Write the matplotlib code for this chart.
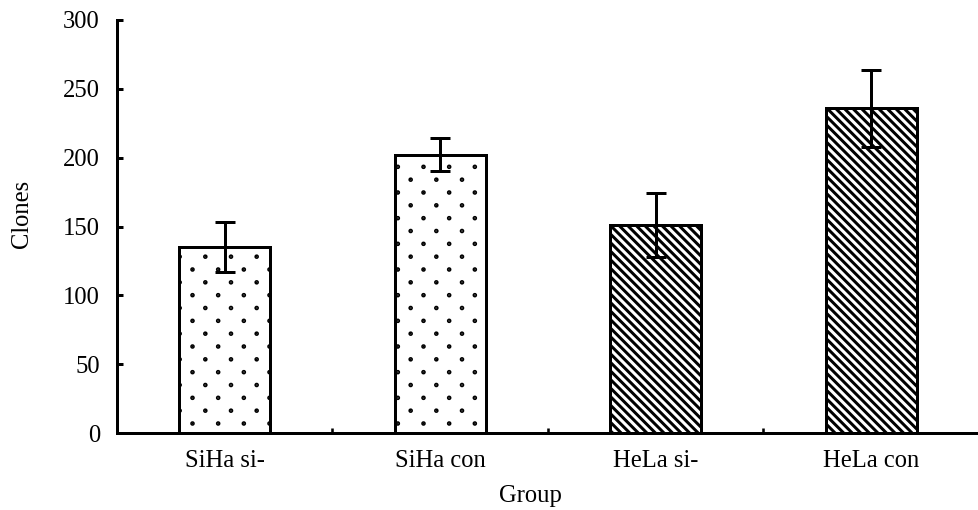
import matplotlib
matplotlib.use("Agg")
import matplotlib.pyplot as plt
import matplotlib.hatch as mhatch
from matplotlib.path import Path
import numpy as np

categories = ["SiHa si-", "SiHa con", "HeLa si-", "HeLa con"]
clones = [135, 202, 151, 236]
errors = [18, 12, 23, 28]
hatches = [".", ".", "\\" * 6, "\\" * 6]


class StaggeredDots(mhatch.HatchPatternBase):
    """Small dots: 6 per tile horizontally, 12 staggered rows vertically."""
    cols = 6
    rows = 12
    radius = 0.005

    def __init__(self, hatch, density):
        self.active = hatch.count(".") > 0
        circ = Path.unit_circle()
        self.shape_vertices = circ.vertices * self.radius
        self.shape_codes = circ.codes
        if self.active:
            n = 0
            for r in range(self.rows + 1):
                n += (self.cols + 1) if r % 2 == 0 else self.cols
            self.num_vertices = n * len(self.shape_vertices)
        else:
            self.num_vertices = 0

    def set_vertices_and_codes(self, vertices, codes):
        vparts, cparts = [], []
        for r in range(self.rows + 1):
            if r % 2 == 0:
                xs = np.linspace(0, 1, self.cols + 1)
            else:
                xs = (np.arange(self.cols) + 0.5) / self.cols
            y = r / self.rows
            for xx in xs:
                vparts.append(self.shape_vertices + [xx, y])
                cparts.append(self.shape_codes)
        np.concatenate(vparts, out=vertices)
        np.concatenate(cparts, out=codes)


mhatch._hatch_types = [StaggeredDots if t is mhatch.SmallFilledCircles else t
                       for t in mhatch._hatch_types]

DPI = 154
FS = 11.5
plt.rcParams["font.family"] = ["Liberation Serif", "DejaVu Serif"]
plt.rcParams["hatch.linewidth"] = 1.4
plt.rcParams["hatch.color"] = "black"

fig = plt.figure(figsize=(979 / DPI, 510 / DPI), dpi=DPI)
ax = fig.add_axes([117 / 979, 77 / 510, 862 / 979, 413 / 510])

x = np.arange(len(categories))
ax.bar(x, clones, width=0.42, color="white", edgecolor="black",
       linewidth=1.4, hatch=hatches, zorder=2)
ax.errorbar(x, clones, yerr=errors, fmt="none", ecolor="black",
            elinewidth=1.4, capsize=4.5, capthick=1.4, zorder=3)

ax.set_xlim(-0.5, 3.5)
ax.set_ylim(0, 300)
ax.set_yticks([0, 50, 100, 150, 200, 250, 300])
ax.set_xticks(x)
ax.set_xticklabels(categories)
ax.set_xticks([0.5, 1.5, 2.5], minor=True)

for s in ["top", "right"]:
    ax.spines[s].set_visible(False)
for s in ["left", "bottom"]:
    ax.spines[s].set_linewidth(1.4)

ax.tick_params(axis="y", direction="in", length=3, width=1.4, pad=8, labelsize=FS)
ax.tick_params(axis="x", which="major", length=0, pad=8, labelsize=FS)
ax.tick_params(axis="x", which="minor", direction="in", length=2.5, width=1.2)

ax.set_ylabel("Clones", fontsize=FS)
ax.yaxis.set_label_coords(-0.097, 0.53)
fig.text(530 / 979, 1 - 496 / 510, "Group", ha="center", va="center", fontsize=FS)

fig.savefig("out.png", dpi=DPI)
